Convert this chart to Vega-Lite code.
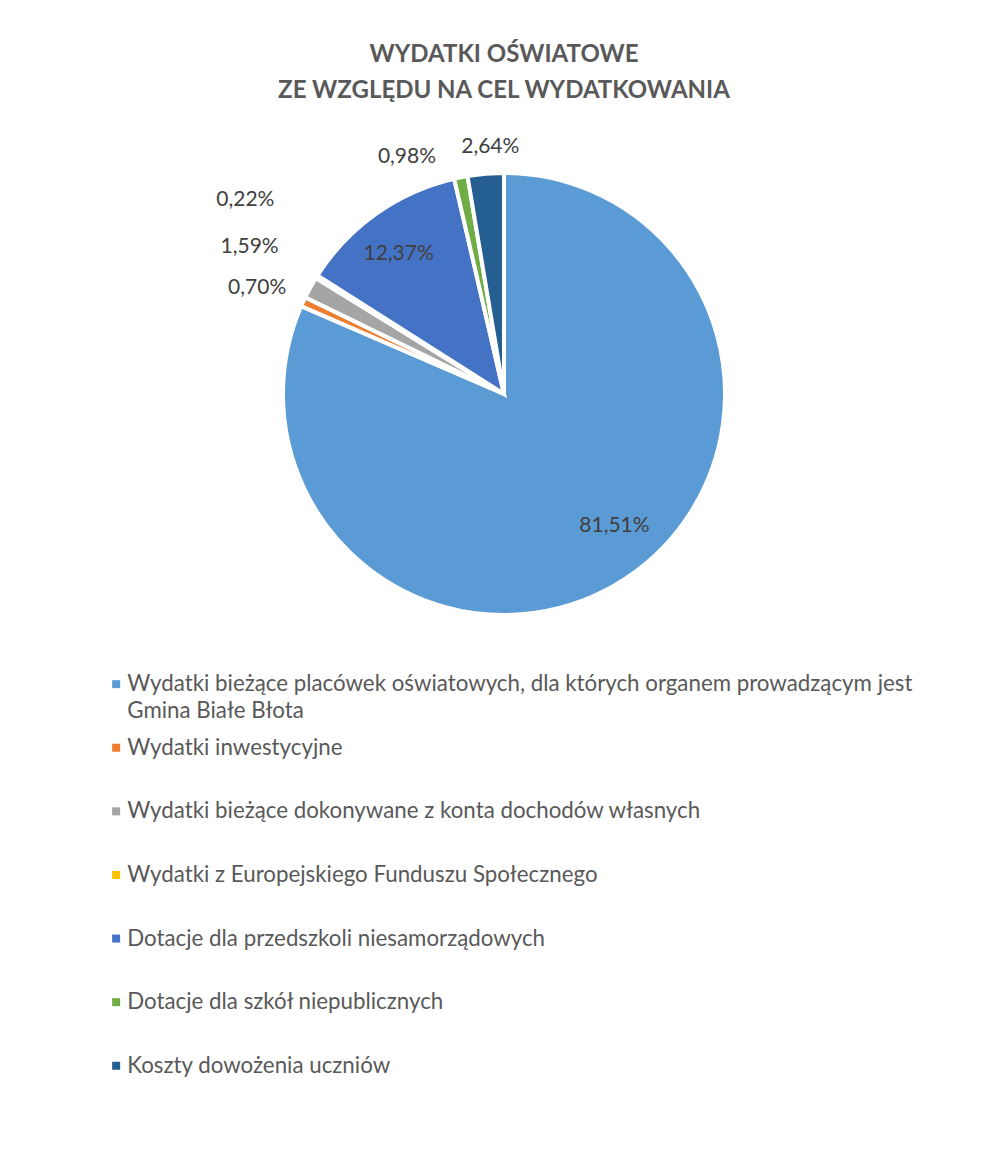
{
  "$schema": "https://vega.github.io/schema/vega-lite/v6.json",
  "autosize": {"type": "none"},
  "padding": {"left": 21, "top": 173, "right": 0, "bottom": 561},
  "width": 966,
  "height": 442,
  "background": "white",
  "config": {
    "view": {"stroke": null},
    "font": "Lato",
    "locale": {"number": {"decimal": ",", "thousands": " ", "grouping": [3], "currency": ["", " zł"]}},
    "style": {"guide-label": {"lineHeight": 27, "dy": -11}}
  },
  "title": {
    "text": ["WYDATKI OŚWIATOWE", "ZE WZGLĘDU NA CEL WYDATKOWANIA"],
    "anchor": "middle",
    "frame": "group",
    "font": "Lato",
    "fontSize": 24,
    "fontWeight": "bold",
    "color": "#595959",
    "lineHeight": 36,
    "offset": -65
  },
  "data": {
    "values": [
      {"idx": 1, "cat": "Wydatki bieżące placówek oświatowych, dla których organem prowadzącym jest Gmina Białe Błota", "value": 0.8151},
      {"idx": 2, "cat": "Wydatki inwestycyjne", "value": 0.0070},
      {"idx": 3, "cat": "Wydatki bieżące dokonywane z konta dochodów własnych", "value": 0.0159},
      {"idx": 4, "cat": "Wydatki z Europejskiego Funduszu Społecznego", "value": 0.0022},
      {"idx": 5, "cat": "Dotacje dla przedszkoli niesamorządowych", "value": 0.1237},
      {"idx": 6, "cat": "Dotacje dla szkół niepublicznych", "value": 0.0098},
      {"idx": 7, "cat": "Koszty dowożenia uczniów", "value": 0.0264}
    ]
  },
  "encoding": {
    "theta": {"field": "value", "type": "quantitative", "stack": true},
    "order": {"field": "idx", "type": "quantitative"}
  },
  "layer": [
    {
      "mark": {"type": "arc", "stroke": "white", "strokeWidth": 4},
      "encoding": {
        "color": {
          "field": "cat",
          "type": "nominal",
          "scale": {
            "domain": [
              "Wydatki bieżące placówek oświatowych, dla których organem prowadzącym jest Gmina Białe Błota",
              "Wydatki inwestycyjne",
              "Wydatki bieżące dokonywane z konta dochodów własnych",
              "Wydatki z Europejskiego Funduszu Społecznego",
              "Dotacje dla przedszkoli niesamorządowych",
              "Dotacje dla szkół niepublicznych",
              "Koszty dowożenia uczniów"
            ],
            "range": ["#5B9BD5", "#ED7D31", "#A5A5A5", "#FFC000", "#4472C4", "#70AD47", "#255E91"]
          },
          "legend": {
            "orient": "none",
            "legendX": 84,
            "legendY": 500,
            "title": null,
            "symbolType": "square",
            "symbolSize": 64,
            "symbolStrokeWidth": 0,
            "symbolOffset": 0,
            "labelOffset": 0,
            "labelFont": "Lato",
            "labelFontSize": 22.3,
            "labelColor": "#595959",
            "labelLimit": 900,
            "labelBaseline": "top",
            "gridAlign": "all",
            "rowPadding": 13.6,
            "padding": 0,
            "labelExpr": "datum.label == 'Wydatki bieżące placówek oświatowych, dla których organem prowadzącym jest Gmina Białe Błota' ? ['Wydatki bieżące placówek oświatowych, dla których organem prowadzącym jest', 'Gmina Białe Błota'] : datum.label"
          }
        }
      }
    },
    {
      "mark": {"type": "text", "radius": 172, "dx": 16, "dy": -12, "fontSize": 21, "color": "#404040", "font": "Lato"},
      "encoding": {
        "text": {"field": "value", "type": "quantitative", "format": ".2%"},
        "opacity": {"condition": {"test": "datum.idx == 1", "value": 1}, "value": 0}
      }
    },
    {
      "mark": {"type": "text", "radius": 172, "dx": -6, "fontSize": 21, "color": "#404040", "font": "Lato"},
      "encoding": {
        "text": {"field": "value", "type": "quantitative", "format": ".2%"},
        "opacity": {"condition": {"test": "datum.idx == 5", "value": 1}, "value": 0}
      }
    },
    {
      "mark": {"type": "text", "radius": 265, "dx": -6, "dy": 5, "fontSize": 21, "color": "#404040", "font": "Lato"},
      "encoding": {
        "text": {"field": "value", "type": "quantitative", "format": ".2%"},
        "opacity": {"condition": {"test": "datum.idx == 2", "value": 1}, "value": 0}
      }
    },
    {
      "mark": {"type": "text", "radius": 250, "dx": 7, "dy": 2, "fontSize": 21, "color": "#404040", "font": "Lato"},
      "encoding": {
        "text": {"field": "value", "type": "quantitative", "format": ".2%"},
        "opacity": {"condition": {"test": "datum.idx == 7", "value": 1}, "value": 0}
      }
    },
    {
      "mark": {"type": "text", "radius": 296, "dx": 5, "dy": -4, "fontSize": 21, "color": "#404040", "font": "Lato"},
      "encoding": {
        "text": {"field": "value", "type": "quantitative", "format": ".2%"},
        "opacity": {"condition": {"test": "datum.idx == 3", "value": 1}, "value": 0}
      }
    },
    {
      "mark": {"type": "text", "radius": 324, "dx": 16, "dy": -22, "fontSize": 21, "color": "#404040", "font": "Lato"},
      "encoding": {
        "text": {"field": "value", "type": "quantitative", "format": ".2%"},
        "opacity": {"condition": {"test": "datum.idx == 4", "value": 1}, "value": 0}
      }
    },
    {
      "mark": {"type": "text", "radius": 256, "dx": -47, "dy": 14, "fontSize": 21, "color": "#404040", "font": "Lato"},
      "encoding": {
        "text": {"field": "value", "type": "quantitative", "format": ".2%"},
        "opacity": {"condition": {"test": "datum.idx == 6", "value": 1}, "value": 0}
      }
    }
  ]
}
